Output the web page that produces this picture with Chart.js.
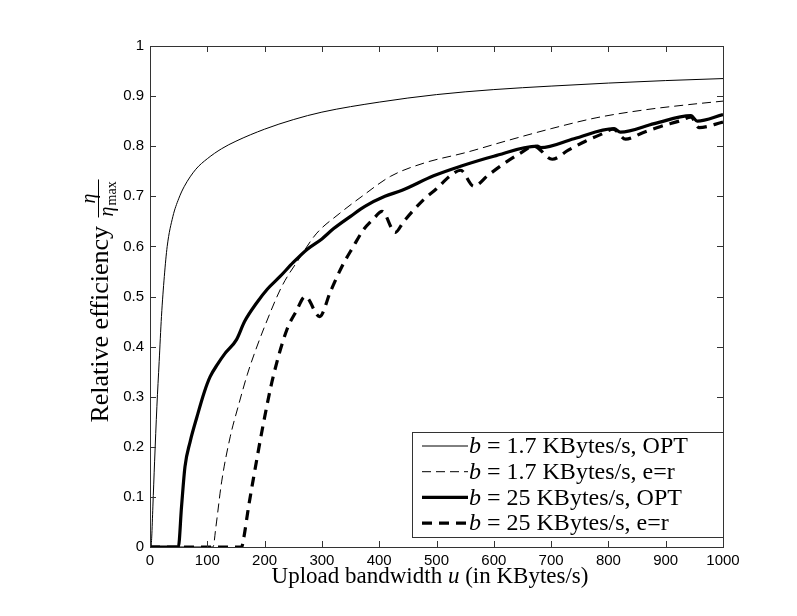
<!DOCTYPE html>
<html>
<head>
<meta charset="utf-8">
<script src="https://cdn.jsdelivr.net/npm/chart.js@4.4.1/dist/chart.umd.min.js"></script>
<style>
  html, body { margin: 0; padding: 0; background: #fff; }
  #wrap { width: 797px; height: 616px; }
</style>
</head>
<body>
<div id="wrap"><canvas id="grafica"></canvas></div>
<script>
// datos: u en KBytes/s, eficiencia relativa eta/eta_max
const xTicks = [0, 100, 200, 300, 400, 500, 600, 700, 800, 900, 1000];
const yTicks = [0, 0.1, 0.2, 0.3, 0.4, 0.5, 0.6, 0.7, 0.8, 0.9, 1];

const uOptSmall = [0, 1.7, 3, 5, 8, 12, 16, 20, 25, 30, 40, 50, 60, 80, 100, 125, 150, 200, 250, 300, 400, 500, 600, 700, 800, 900, 1000];
const effOptSmall = [0, 0, 0.02, 0.08, 0.17, 0.28, 0.37, 0.46, 0.54, 0.6, 0.66, 0.695, 0.72, 0.754, 0.775, 0.795, 0.81, 0.834, 0.853, 0.868, 0.888, 0.903, 0.913, 0.92, 0.926, 0.931, 0.935];

const uErSmall = [0, 110, 115, 125, 140, 155, 170, 185, 200, 230, 260, 290, 330, 370, 420, 480, 550, 620, 700, 780, 860, 940, 1000];
const effErSmall = [0, 0, 0.04, 0.13, 0.22, 0.285, 0.345, 0.395, 0.44, 0.52, 0.575, 0.625, 0.665, 0.70, 0.74, 0.767, 0.787, 0.81, 0.835, 0.857, 0.872, 0.883, 0.89];

const uOptBig = [0, 49.5, 55, 61, 70, 82, 95, 105, 118, 130, 151, 165, 186, 205, 227, 250, 274, 300, 320, 350, 375, 410, 440, 495, 542, 600, 676, 682, 740, 810, 821, 880, 944, 955, 1000];
const effOptBig = [0, 0, 0.08, 0.16, 0.21, 0.26, 0.31, 0.34, 0.365, 0.385, 0.414, 0.45, 0.487, 0.515, 0.54, 0.568, 0.594, 0.615, 0.635, 0.66, 0.68, 0.70, 0.712, 0.741, 0.76, 0.78, 0.80, 0.797, 0.815, 0.835, 0.828, 0.845, 0.861, 0.85, 0.863];

const uErBig = [0, 160, 163, 172, 181, 198, 215, 239, 255, 271, 296, 315, 335, 355, 373, 390, 405, 428, 443, 478, 500, 524, 542, 565, 590, 620, 645, 670, 702, 730, 760, 790, 808, 830, 860, 890, 926, 944, 958, 1000];
const effErBig = [0, 0, 0.014, 0.08, 0.14, 0.247, 0.34, 0.434, 0.47, 0.50, 0.46, 0.51, 0.56, 0.60, 0.634, 0.655, 0.67, 0.628, 0.65, 0.694, 0.715, 0.741, 0.752, 0.72, 0.742, 0.767, 0.785, 0.80, 0.774, 0.792, 0.81, 0.825, 0.834, 0.814, 0.827, 0.839, 0.851, 0.858, 0.837, 0.848];

const etiquetas = [
  "b = 1.7 KBytes/s, OPT",
  "b = 1.7 KBytes/s, e=r",
  "b = 25 KBytes/s, OPT",
  "b = 25 KBytes/s, e=r"
];

function puntos(xs, ys) {
  return xs.map((x, i) => ({ x: x, y: ys[i] }));
}

const serif = '"Liberation Serif", "DejaVu Serif", serif';
const sans = '"Liberation Sans", Arial, sans-serif';

// marco con ticks hacia dentro, estilo matlab
const marco = {
  id: "marco",
  afterDatasetsDraw(chart) {
    const { ctx, chartArea: a, scales } = chart;
    ctx.save();
    ctx.strokeStyle = "#333";
    ctx.lineWidth = 1;
    ctx.strokeRect(a.left + 0.5, a.top + 0.5, a.right - a.left, a.bottom - a.top);
    ctx.beginPath();
    xTicks.forEach(t => {
      const px = Math.round(scales.x.getPixelForValue(t)) + 0.5;
      ctx.moveTo(px, a.bottom); ctx.lineTo(px, a.bottom - 6);
      ctx.moveTo(px, a.top); ctx.lineTo(px, a.top + 6);
    });
    yTicks.forEach(t => {
      const py = Math.round(scales.y.getPixelForValue(t)) + 0.5;
      ctx.moveTo(a.left, py); ctx.lineTo(a.left + 6, py);
      ctx.moveTo(a.right, py); ctx.lineTo(a.right - 6, py);
    });
    ctx.stroke();
    ctx.restore();
  }
};

// leyenda en caja abajo a la derecha
const leyenda = {
  id: "leyenda",
  afterDraw(chart) {
    const { ctx, chartArea: a } = chart;
    const x0 = 412, y0 = 432, w = a.right - x0, h = 105;
    ctx.save();
    ctx.fillStyle = "#fff";
    ctx.fillRect(x0, y0, w, h);
    ctx.strokeStyle = "#333";
    ctx.lineWidth = 1;
    ctx.strokeRect(x0 + 0.5, y0 + 0.5, w, h);
    chart.data.datasets.forEach((ds, i) => {
      const cy = 446 + i * 25.7;
      ctx.strokeStyle = "#000";
      ctx.lineWidth = ds.borderWidth;
      ctx.setLineDash(ds.borderDash || []);
      ctx.beginPath();
      ctx.moveTo(422, cy); ctx.lineTo(468, cy);
      ctx.stroke();
      ctx.setLineDash([]);
      ctx.fillStyle = "#000";
      ctx.textBaseline = "middle";
      ctx.textAlign = "left";
      ctx.font = "italic 24px " + serif;
      ctx.fillText("b", 469, cy + 1);
      const wb = ctx.measureText("b").width;
      ctx.font = "24px " + serif;
      ctx.fillText(ds.label.slice(1), 469 + wb, cy + 1);
    });
    ctx.restore();
  }
};

// titulos de los ejes
const titulos = {
  id: "titulos",
  afterDraw(chart) {
    const { ctx } = chart;
    ctx.save();
    ctx.fillStyle = "#000";
    ctx.textBaseline = "alphabetic";
    // eje x
    const partes = [["Upload bandwidth ", ""], ["u", "italic "], [" (in KBytes/s)", ""]];
    let total = 0;
    partes.forEach(p => { ctx.font = p[1] + "23px " + serif; total += ctx.measureText(p[0]).width; });
    let x = 430 - total / 2;
    partes.forEach(p => {
      ctx.font = p[1] + "23px " + serif;
      ctx.fillText(p[0], x, 583);
      x += ctx.measureText(p[0]).width;
    });
    // eje y, rotado
    ctx.translate(108, 300);
    ctx.rotate(-Math.PI / 2);
    ctx.font = "26px " + serif;
    const txt = "Relative efficiency ";
    const wt = ctx.measureText(txt).width;
    const wf = 42;
    let sx = -(wt + wf) / 2;
    ctx.fillText(txt, sx, 0);
    sx += wt;
    // fraccion eta / eta_max
    ctx.font = "italic 20px " + serif;
    ctx.textAlign = "center";
    ctx.fillText("\u03b7", sx + wf / 2, -13);
    ctx.fillRect(sx + 2, -10, wf - 4, 1);
    ctx.textAlign = "left";
    ctx.fillText("\u03b7", sx + 3, 5);
    ctx.font = "14px " + serif;
    ctx.fillText("max", sx + 14, 8);
    ctx.restore();
  }
};

const ctxGraf = document.getElementById("grafica").getContext("2d");
const grafica = new Chart(ctxGraf, {
  type: "line",
  data: {
    datasets: [
      { label: etiquetas[0], data: puntos(uOptSmall, effOptSmall), borderColor: "#000", borderWidth: 1, borderDash: [] },
      { label: etiquetas[1], data: puntos(uErSmall, effErSmall), borderColor: "#000", borderWidth: 1, borderDash: [9, 5] },
      { label: etiquetas[2], data: puntos(uOptBig, effOptBig), borderColor: "#000", borderWidth: 3.2, borderDash: [] },
      { label: etiquetas[3], data: puntos(uErBig, effErBig), borderColor: "#000", borderWidth: 3.2, borderDash: [10, 7] }
    ]
  },
  options: {
    responsive: true,
    maintainAspectRatio: false,
    animation: false,
    elements: { point: { radius: 0 }, line: { cubicInterpolationMode: "monotone", borderCapStyle: "butt" } },
    layout: { padding: { top: 46, right: 74, left: 0, bottom: 0 } },
    plugins: {
      legend: { display: false },
      title: { display: false },
      tooltip: { enabled: false }
    },
    scales: {
      x: {
        type: "linear",
        min: 0, max: 1000,
        afterFit: s => { s.height = 69; },
        afterBuildTicks: s => { s.ticks = xTicks.map(v => ({ value: v })); },
        grid: { display: false, drawTicks: false },
        border: { display: false },
        ticks: { color: "#000", padding: 5, font: { family: sans, size: 15 }, maxRotation: 0, callback: v => String(v) }
      },
      y: {
        type: "linear",
        min: 0, max: 1,
        afterFit: s => { s.width = 150; },
        afterBuildTicks: s => { s.ticks = yTicks.map(v => ({ value: v })); },
        grid: { display: false, drawTicks: false },
        border: { display: false },
        ticks: { color: "#000", padding: 6, font: { family: sans, size: 15 }, callback: v => String(v) }
      }
    }
  },
  plugins: [marco, leyenda, titulos]
});
</script>
</body>
</html>
